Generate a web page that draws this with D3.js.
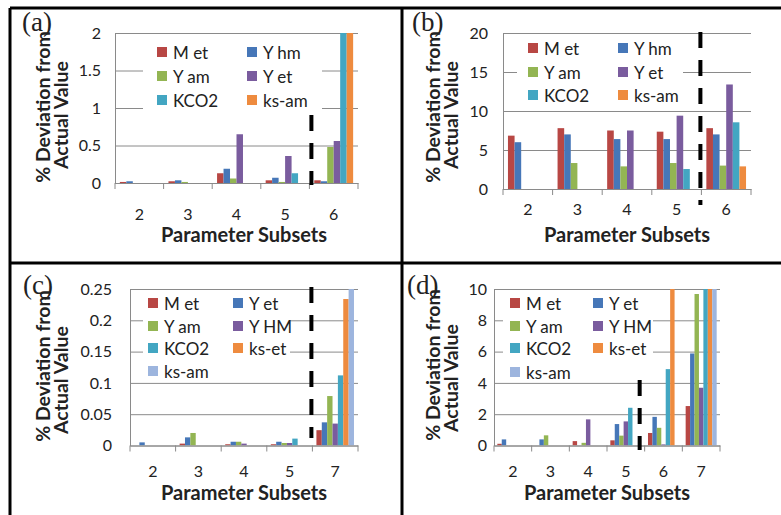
<!DOCTYPE html>
<html lang="en">
<head>
<meta charset="UTF-8">
<title>Parameter subsets</title>
<script src="https://d3js.org/d3.v7.min.js"></script>
<style>
  body { margin: 0; background: #fff; }
  text { font-family: Lato, "Open Sans", sans-serif; fill: #222; }
</style>
</head>
<body>
<div id="chart"></div>
<script>
// categories (parameter subsets)
const catsAB = ["2", "3", "4", "5", "6"];
const catsC = ["2", "3", "4", "5", "7"];
const catsD = ["2", "3", "4", "5", "6", "7"];

// series names
const seriesAB = ["M et", "Y hm", "Y am", "Y et", "KCO2", "ks-am"];
const seriesCD = ["M et", "Y et", "Y am", "Y HM", "KCO2", "ks-et", "ks-am"];

// % deviation, one row per category, one column per series
const valuesA = [
  [0.014, 0.023, 0, 0, 0, 0],
  [0.023, 0.036, 0.014, 0, 0, 0],
  [0.13, 0.19, 0.06, 0.65, 0, 0],
  [0.036, 0.07, 0.014, 0.36, 0.13, 0],
  [0.036, 0.023, 0.48, 0.56, 2.3, 2.6]
];
const valuesB = [
  [6.84, 6.0, 0, 0, 0, 0],
  [7.8, 7.0, 3.33, 0, 0, 0],
  [7.5, 6.4, 2.9, 7.5, 0, 0],
  [7.35, 6.4, 3.33, 9.4, 2.56, 0],
  [7.8, 7.0, 3.0, 13.4, 8.55, 2.9]
];
const valuesC = [
  [0, 0.005, 0, 0, 0, 0, 0],
  [0.003, 0.013, 0.02, 0, 0, 0, 0],
  [0.002, 0.006, 0.006, 0.003, 0, 0, 0],
  [0.002, 0.006, 0.004, 0.004, 0.011, 0, 0],
  [0.0245, 0.037, 0.079, 0.035, 0.112, 0.234, 0.26]
];
const valuesD = [
  [0.11, 0.39, 0, 0, 0, 0, 0],
  [0, 0.39, 0.65, 0, 0, 0, 0],
  [0.28, 0, 0.17, 1.67, 0, 0, 0],
  [0.33, 1.37, 0.63, 1.54, 2.41, 0, 0],
  [0.8, 1.83, 1.13, 0.07, 4.88, 11, 0],
  [2.52, 5.88, 9.68, 3.69, 12, 14, 15]
];

// y tick values
const ticksA = [0, 0.5, 1, 1.5, 2];
const ticksB = [0, 5, 10, 15, 20];
const ticksC = [0, 0.05, 0.1, 0.15, 0.2, 0.25];
const ticksD = [0, 2, 4, 6, 8, 10];

const colorsAB = ["#B84744", "#4677B8", "#93B553", "#7A5C9E", "#43A6C2", "#EE8B3F"];
const colorsCD = ["#B84744", "#4677B8", "#93B553", "#7A5C9E", "#43A6C2", "#EE8B3F", "#9DB5DE"];

const width = 781, height = 515;

const panels = [
  { label: "(a)", lx: 22, ly: 31, cats: catsAB, series: seriesAB, colors: colorsAB, values: valuesA, ticks: ticksA,
    left: 115, right: 358, top: 33, bottom: 183, tickGap: 14, xTickY: 213, xTitle: [244, 234],
    yTitle: [42, 107, 60, 115],
    legend: { x: 143, y: 39, w: 179, h: 74, cols: [157, 247], rows: [52, 76, 100] },
    dash: { at: 4, dx: 2, y0: 115, y1: 185 } },
  { label: "(b)", lx: 412, ly: 31, cats: catsAB, series: seriesAB, colors: colorsAB, values: valuesB, ticks: ticksB,
    left: 503, right: 751, top: 33, bottom: 189, tickGap: 15, xTickY: 208, xTitle: [627, 234],
    yTitle: [432, 107, 450, 115],
    legend: { x: 517, y: 37, w: 166, h: 70, cols: [528, 618], rows: [48, 72, 95] },
    dash: { at: 4, dx: -1, y0: 32, y1: 205 } },
  { label: "(c)", lx: 23, ly: 294, cats: catsC, series: seriesCD, colors: colorsCD, values: valuesC, ticks: ticksC,
    left: 130, right: 358, top: 289, bottom: 445.5, tickGap: 18, xTickY: 470, xTitle: [244, 492],
    yTitle: [42, 366, 60, 380],
    legend: { x: 143, y: 292, w: 147, h: 90, cols: [148, 233], rows: [303, 326, 348, 371] },
    dash: { at: 4, dx: -1, y0: 287, y1: 438 } },
  { label: "(d)", lx: 407, ly: 294, cats: catsD, series: seriesCD, colors: colorsCD, values: valuesD, ticks: ticksD,
    left: 494, right: 720, top: 289, bottom: 445.5, tickGap: 7, xTickY: 470, xTitle: [607, 492],
    yTitle: [432, 365, 450, 378],
    legend: { x: 503, y: 292, w: 150, h: 90, cols: [510, 593], rows: [303, 326, 348, 372] },
    dash: { at: 4, dx: -5, y0: 380, y1: 450 } }
];

const svg = d3.select("#chart").append("svg")
  .attr("width", width)
  .attr("height", height);

svg.append("rect").attr("width", width).attr("height", height).attr("fill", "#fff");

panels.forEach((p, pi) => {
  const g = svg.append("g");

  const x0 = d3.scaleBand().domain(p.cats).range([p.left, p.right]).paddingInner(0).paddingOuter(0);
  const x1 = d3.scaleBand().domain(p.series).range([0, x0.bandwidth()]).paddingInner(0).paddingOuter(0.75);
  const y = d3.scaleLinear().domain([0, d3.max(p.ticks)]).range([p.bottom, p.top]);

  // gridlines
  g.append("g")
    .attr("transform", `translate(${p.left},0)`)
    .call(d3.axisLeft(y).tickValues(p.ticks).tickSize(-(p.right - p.left)).tickFormat(""))
    .call(s => s.select(".domain").remove())
    .selectAll("line").attr("stroke", "#8a8a8a");

  // y axis labels
  g.append("g")
    .attr("transform", `translate(${p.left},0)`)
    .call(d3.axisLeft(y).tickValues(p.ticks).tickSize(0).tickPadding(p.tickGap).tickFormat(d => String(d)))
    .call(s => s.select(".domain").attr("stroke", "#8a8a8a"))
    .selectAll("text")
    .attr("font-family", "Lato, sans-serif")
    .attr("font-size", 16)
    .attr("fill", "#222");

  // legend background
  g.append("rect")
    .attr("x", p.legend.x).attr("y", p.legend.y)
    .attr("width", p.legend.w).attr("height", p.legend.h)
    .attr("fill", "#fff");

  // bars (clipped to plot area)
  const clipId = "clip" + pi;
  svg.append("clipPath").attr("id", clipId)
    .append("rect")
    .attr("x", p.left).attr("y", p.top)
    .attr("width", p.right - p.left).attr("height", p.bottom - p.top);

  g.append("g")
    .attr("clip-path", `url(#${clipId})`)
    .selectAll("g")
    .data(p.values)
    .join("g")
    .attr("transform", (d, i) => `translate(${x0(p.cats[i])},0)`)
    .selectAll("rect")
    .data(d => d.map((v, j) => ({ v, j })).filter(e => e.v > 0))
    .join("rect")
    .attr("x", e => x1(p.series[e.j]))
    .attr("width", x1.bandwidth())
    .attr("y", e => y(e.v))
    .attr("height", e => y(0) - y(e.v))
    .attr("fill", e => p.colors[e.j]);

  // x axis
  const xa = g.append("g")
    .attr("transform", `translate(0,${p.bottom})`)
    .call(d3.axisBottom(x0).tickSize(0).tickFormat(""));
  xa.select(".domain").attr("stroke", "#8a8a8a");
  const bounds = p.cats.map(c => x0(c)).concat([p.right]);
  xa.selectAll(".bound")
    .data(bounds)
    .join("line")
    .attr("class", "bound")
    .attr("x1", d => d).attr("x2", d => d)
    .attr("y1", 0).attr("y2", 6)
    .attr("stroke", "#8a8a8a");

  // category labels
  g.selectAll(".cat")
    .data(p.cats)
    .join("text")
    .attr("class", "cat")
    .attr("x", d => x0(d) + x0.bandwidth() / 2)
    .attr("y", p.xTickY)
    .attr("dominant-baseline", "central")
    .attr("text-anchor", "middle")
    .attr("font-size", 16)
    .text(d => d);

  // axis titles
  g.append("text")
    .attr("x", p.xTitle[0]).attr("y", p.xTitle[1])
    .attr("text-anchor", "middle")
    .attr("dominant-baseline", "central")
    .attr("font-size", 20)
    .attr("font-weight", "bold")
    .text("Parameter Subsets");

  g.append("text")
    .attr("transform", `translate(${p.yTitle[0]},${p.yTitle[1]}) rotate(-90)`)
    .attr("text-anchor", "middle")
    .attr("dominant-baseline", "central")
    .attr("font-size", 19.5)
    .attr("font-weight", "bold")
    .text("% Deviation from");

  g.append("text")
    .attr("transform", `translate(${p.yTitle[2]},${p.yTitle[3]}) rotate(-90)`)
    .attr("text-anchor", "middle")
    .attr("dominant-baseline", "central")
    .attr("font-size", 19.5)
    .attr("font-weight", "bold")
    .text("Actual Value");

  // legend entries
  const items = g.selectAll(".leg")
    .data(p.series)
    .join("g")
    .attr("class", "leg")
    .attr("transform", (d, i) => `translate(${p.legend.cols[i % 2]},${p.legend.rows[Math.floor(i / 2)]})`);
  items.append("rect")
    .attr("x", 0).attr("y", -5)
    .attr("width", 10).attr("height", 10)
    .attr("fill", (d, i) => p.colors[i]);
  items.append("text")
    .attr("x", 16).attr("y", 0)
    .attr("dominant-baseline", "central")
    .attr("font-size", 17)
    .text(d => d);

  // dashed separator
  const dx = x0(p.cats[p.dash.at]) + p.dash.dx;
  g.append("line")
    .attr("x1", dx).attr("x2", dx)
    .attr("y1", p.dash.y0).attr("y2", p.dash.y1)
    .attr("stroke", "#000")
    .attr("stroke-width", 4)
    .attr("stroke-dasharray", "16,12");

  // panel label
  g.append("text")
    .attr("x", p.lx).attr("y", p.ly)
    .attr("font-size", 27)
    .style("font-family", "'Liberation Serif', 'DejaVu Serif', serif")
    .text(p.label);
});

// panel frame lines
const frame = [
  [10, 8, 781, 8],
  [10, 8, 10, 515],
  [402, 8, 402, 515],
  [10, 263, 781, 263]
];
svg.selectAll(".frame")
  .data(frame)
  .join("line")
  .attr("class", "frame")
  .attr("x1", d => d[0]).attr("y1", d => d[1])
  .attr("x2", d => d[2]).attr("y2", d => d[3])
  .attr("stroke", "#000")
  .attr("stroke-width", 3);
</script>
</body>
</html>
